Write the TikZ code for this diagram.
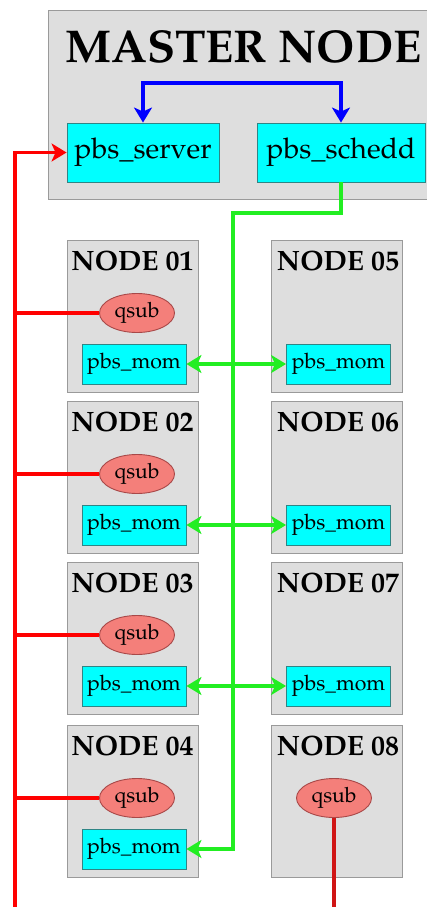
\documentclass[tikz,border=0pt]{standalone}
\usepackage[T1]{fontenc}
\usepackage{mathpazo}
\usetikzlibrary{arrows.meta,shapes.geometric}

\definecolor{panelgray}{HTML}{DEDEDE}
\definecolor{panelline}{HTML}{9A9A9A}
\definecolor{daemon}{HTML}{00FFFF}
\definecolor{daemonline}{HTML}{2F8585}
\definecolor{jobfill}{HTML}{F47F7A}
\definecolor{jobline}{HTML}{A84848}
\definecolor{busred}{HTML}{FF0000}
\definecolor{busgreen}{HTML}{22EE22}
\definecolor{busblue}{HTML}{0000FF}
\definecolor{jobred}{HTML}{D01515}

\tikzset{
  bustip/.tip={Stealth[length=15pt, width=18pt, inset=4pt]},
  panel/.style={draw=panelline, fill=panelgray, line width=0.9pt, anchor=north west,
    inner sep=0pt, minimum width=131pt, minimum height=152pt},
  daemonbox/.style={draw=daemonline, fill=daemon, line width=0.9pt, inner sep=0pt},
  pbsmom/.style={daemonbox, minimum width=104pt, minimum height=40pt,
    font=\fontsize{21.3}{24}\selectfont},
  jobnode/.style={ellipse, draw=jobline, fill=jobfill, line width=0.9pt,
    minimum width=75pt, minimum height=39pt, inner sep=0pt,
    font=\fontsize{21}{24}\selectfont},
  nodetitle/.style={anchor=base, inner sep=0pt, font=\fontsize{28}{32}\selectfont\bfseries},
  bigtitle/.style={anchor=base, inner sep=0pt, font=\fontsize{46}{54}\selectfont\bfseries},
  redbus/.style={draw=busred, line width=3.5pt},
  greenbus/.style={draw=busgreen, line width=4pt},
  bluebus/.style={draw=busblue, line width=3.5pt},
}

\begin{document}
\begin{tikzpicture}[x=1pt, y=-1pt]
\useasboundingbox (0,0) rectangle (427,907);
\clip (0,0) rectangle (427,907);
\fill[white] (0,0) rectangle (427,907);

% master node with server and scheduler
\node[panel, minimum width=400pt, minimum height=189pt] (master) at (48,10) {};
\node[bigtitle] (mastertitle) at (243.5,63) {MASTER NODE};
\node[daemonbox, minimum width=152pt, minimum height=59pt,
  font=\fontsize{28.5}{32}\selectfont] (server) at (143,152.5) {pbs\_server};
\node[daemonbox, minimum width=168pt, minimum height=59pt,
  font=\fontsize{28.5}{32}\selectfont] (schedd) at (341,152.5) {pbs\_schedd};

% compute nodes, left column
\foreach \i/\top in {1/240,2/401,3/562,4/725} {
  \node[panel] (n\i) at (67,\top) {};
  \node[nodetitle] (t\i) at (132.5,\top+30) {NODE 0\i};
  \node[jobnode] (q\i) at (137,\top+73) {qsub};
  \node[pbsmom] (m\i) at (134,\top+124) {pbs\_mom};
}

% compute nodes, right column
\foreach \i/\top in {5/240,6/401,7/562,8/725} {
  \node[panel] (n\i) at (271,\top) {};
  \node[nodetitle] (t\i) at (338,\top+30) {NODE 0\i};
}
\foreach \i/\top in {5/240,6/401,7/562} {
  \node[pbsmom] (m\i) at (338.5,\top+124) {pbs\_mom};
}
\node[jobnode] (q8) at (334,798) {qsub};

% server <-> scheduler
\coordinate (bluetop) at (0,83);
\draw[bluebus, bustip-bustip] (server.north) -- (server.north |- bluetop)
  -- (schedd.north |- bluetop) -- (schedd.north);

% job submission bus
\coordinate (redleft) at (15,920);
\draw[redbus, -bustip] (redleft) |- (server.west);
\foreach \i in {1,2,3,4} {
  \draw[redbus] (q\i.west) -- (q\i.west -| redleft);
}
\coordinate (redright) at (334,920);
\draw[draw=jobred, line width=3.5pt] (q8.south) -- (q8.south |- redright);

% scheduler to mom daemons
\coordinate (greenturn) at (233,213);
\draw[greenbus, -bustip] (schedd.south) -- (schedd.south |- greenturn)
  -- (greenturn) -- (greenturn |- m4.east) -- (m4.east);
\draw[greenbus, bustip-bustip] (m1.east) -- (m5.west);
\draw[greenbus, bustip-bustip] (m2.east) -- (m6.west);
\draw[greenbus, bustip-bustip] (m3.east) -- (m7.west);
\end{tikzpicture}
\end{document}
